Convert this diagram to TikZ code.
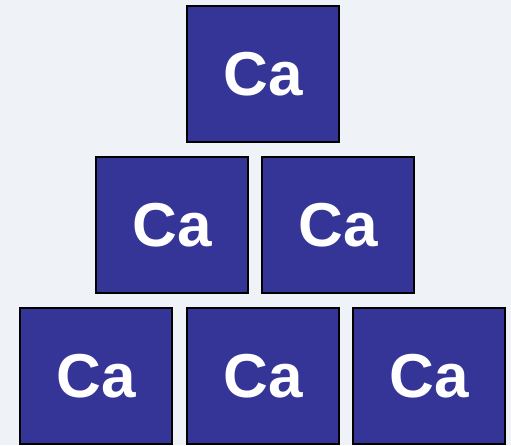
\documentclass[tikz,border=0pt]{standalone}
\usepackage{fontspec}
\setmainfont{Liberation Sans}
\begin{document}
\begin{tikzpicture}[x=1pt,y=-1pt,
  cabox/.style={draw=black,line width=2.2pt,fill=cablue,minimum width=152pt,minimum height=136pt,inner sep=0pt,outer sep=0pt,
    text=white,font=\fontsize{62}{62}\selectfont\bfseries}]
\definecolor{cablue}{HTML}{353597}
\definecolor{bg}{HTML}{EFF3F8}
\fill[bg] (0,0) rectangle (511,445);
\useasboundingbox (0,0) rectangle (511,445);
\node[cabox] (t) at (263,74) {Ca};
\node[cabox] (m1) at (172,225) {Ca};
\node[cabox] (m2) at (338,225) {Ca};
\node[cabox] (b1) at (96,376) {Ca};
\node[cabox] (b2) at (263,376) {Ca};
\node[cabox] (b3) at (429,376) {Ca};
\end{tikzpicture}
\end{document}
